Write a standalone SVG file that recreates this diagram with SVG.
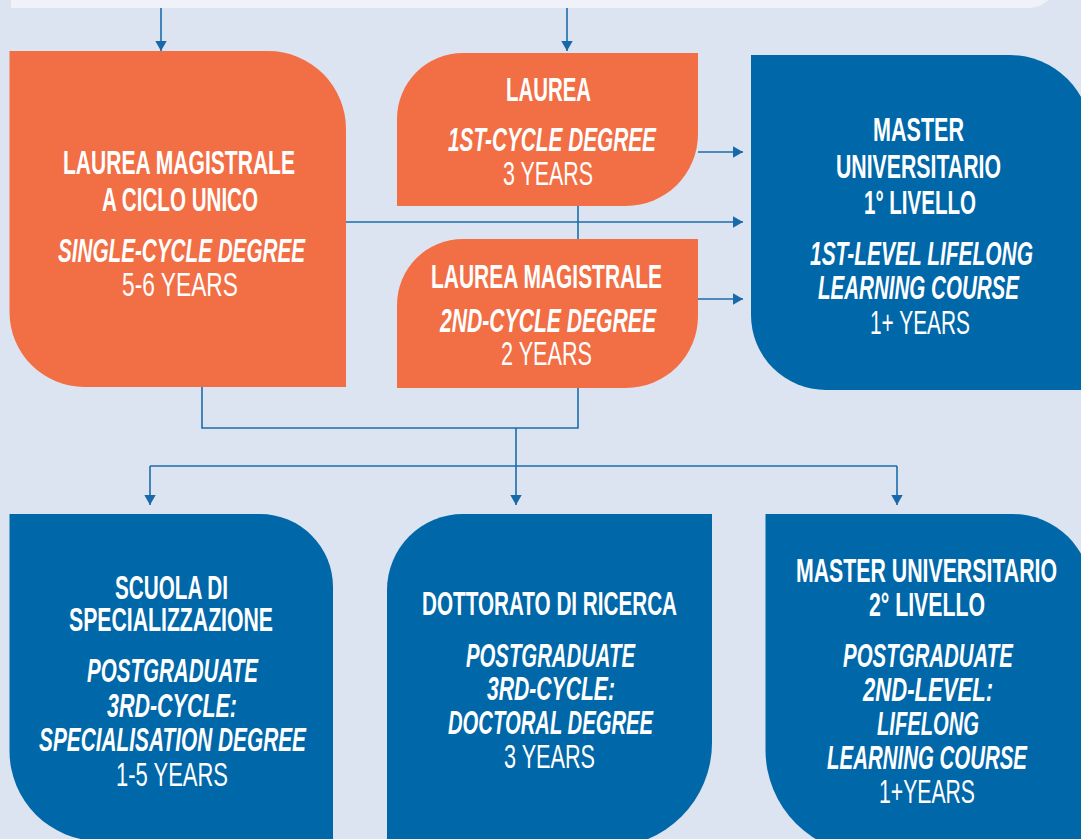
<svg xmlns="http://www.w3.org/2000/svg" width="1081" height="839" viewBox="0 0 1081 839">
<defs>
<marker id="arr" markerUnits="userSpaceOnUse" markerWidth="11" markerHeight="13" refX="10.5" refY="6.5" orient="auto" viewBox="0 0 11 13">
<path d="M0,0.5 L10.5,6.5 L0,12.5 Z" fill="#1769aa"/>
</marker>
<style>
.bg{fill:#dde4f1}
.panel{fill:#eff2f8}
.or{fill:#f26e45}
.bl{fill:#0067a8}
.c{fill:none;stroke:#1b6dab;stroke-width:1.6}
.ca{fill:none;stroke:#1b6dab;stroke-width:1.6;marker-end:url(#arr)}
text{font-family:"Liberation Sans",Arial,sans-serif;font-size:33px;fill:#ffffff}
.t{font-weight:bold}
.i{font-weight:bold;font-style:italic}
.y{font-weight:normal}
</style>
</defs>
<rect class="bg" x="0" y="0" width="1081" height="839"/>
<path class="panel" d="M11,-40 H1058 V-22 A30,30 0 0 1 1028,8 H11 Z"/>

<g id="connectors">
<line class="ca" x1="161" y1="8" x2="161" y2="51"/>
<line class="ca" x1="567" y1="8" x2="567" y2="51"/>
<line class="ca" x1="698" y1="152" x2="743" y2="152"/>
<line class="ca" x1="346" y1="222" x2="743" y2="222"/>
<line class="ca" x1="698" y1="299" x2="743" y2="299"/>
<line class="c" x1="578" y1="206" x2="578" y2="239"/>
<polyline class="c" points="202,387 202,428 578,428 578,388"/>
<line class="ca" x1="516" y1="428" x2="516" y2="505"/>
<line class="c" x1="150" y1="466" x2="897" y2="466"/>
<line class="ca" x1="150" y1="466" x2="150" y2="505"/>
<line class="ca" x1="897" y1="466" x2="897" y2="505"/>
</g>

<g id="node-lm-ciclo-unico">
<path class="or" d="M9.5,51 H268 A78,78 0 0 1 346,129 V387 H84.5 A75,75 0 0 1 9.5,312 Z"/>
<text class="t" x="63" y="174" textLength="232" lengthAdjust="spacingAndGlyphs">LAUREA MAGISTRALE</text>
<text class="t" x="102" y="211" textLength="156" lengthAdjust="spacingAndGlyphs">A CICLO UNICO</text>
<text class="i" x="58" y="262" textLength="247" lengthAdjust="spacingAndGlyphs">SINGLE-CYCLE DEGREE</text>
<text class="y" x="122" y="296" textLength="116" lengthAdjust="spacingAndGlyphs">5-6 YEARS</text>
</g>

<g id="node-laurea">
<path class="or" d="M463,53 H698 V134 A72,72 0 0 1 626,206 H397 V119 A66,66 0 0 1 463,53 Z"/>
<text class="t" x="506" y="101" textLength="85" lengthAdjust="spacingAndGlyphs">LAUREA</text>
<text class="i" x="448" y="151" textLength="208" lengthAdjust="spacingAndGlyphs">1ST-CYCLE DEGREE</text>
<text class="y" x="503" y="185" textLength="90" lengthAdjust="spacingAndGlyphs">3 YEARS</text>
</g>

<g id="node-laurea-magistrale">
<path class="or" d="M463,239 H698 V316 A72,72 0 0 1 626,388 H397 V305 A66,66 0 0 1 463,239 Z"/>
<text class="t" x="431" y="288" textLength="231" lengthAdjust="spacingAndGlyphs">LAUREA MAGISTRALE</text>
<text class="i" x="440" y="332" textLength="216" lengthAdjust="spacingAndGlyphs">2ND-CYCLE DEGREE</text>
<text class="y" x="501" y="365" textLength="91" lengthAdjust="spacingAndGlyphs">2 YEARS</text>
</g>

<g id="node-master-1">
<path class="bl" d="M751,55 H1010 A81,81 0 0 1 1091,136 V390 H826 A75,75 0 0 1 751,315 Z"/>
<text class="t" x="873" y="141" textLength="91" lengthAdjust="spacingAndGlyphs">MASTER</text>
<text class="t" x="836" y="178" textLength="165" lengthAdjust="spacingAndGlyphs">UNIVERSITARIO</text>
<text class="t" x="864" y="214" textLength="112" lengthAdjust="spacingAndGlyphs">1° LIVELLO</text>
<text class="i" x="810" y="265" textLength="223" lengthAdjust="spacingAndGlyphs">1ST-LEVEL LIFELONG</text>
<text class="i" x="818" y="299" textLength="201" lengthAdjust="spacingAndGlyphs">LEARNING COURSE</text>
<text class="y" x="870" y="334" textLength="100" lengthAdjust="spacingAndGlyphs">1+ YEARS</text>
</g>

<g id="node-scuola">
<path class="bl" d="M9.5,514 H260 A73,73 0 0 1 333,587 V841 H99.5 A90,90 0 0 1 9.5,751 Z"/>
<text class="t" x="115" y="599" textLength="113" lengthAdjust="spacingAndGlyphs">SCUOLA DI</text>
<text class="t" x="69" y="631" textLength="204" lengthAdjust="spacingAndGlyphs">SPECIALIZZAZIONE</text>
<text class="i" x="87" y="682" textLength="171" lengthAdjust="spacingAndGlyphs">POSTGRADUATE</text>
<text class="i" x="107" y="717" textLength="130" lengthAdjust="spacingAndGlyphs">3RD-CYCLE:</text>
<text class="i" x="39" y="751" textLength="267" lengthAdjust="spacingAndGlyphs">SPECIALISATION DEGREE</text>
<text class="y" x="116" y="786" textLength="112" lengthAdjust="spacingAndGlyphs">1-5 YEARS</text>
</g>

<g id="node-dottorato">
<path class="bl" d="M463,514 H712 V743 A104,104 0 0 1 608,847 H387 V590 A76,76 0 0 1 463,514 Z"/>
<text class="t" x="422" y="615" textLength="255" lengthAdjust="spacingAndGlyphs">DOTTORATO DI RICERCA</text>
<text class="i" x="466" y="667" textLength="169" lengthAdjust="spacingAndGlyphs">POSTGRADUATE</text>
<text class="i" x="487" y="700" textLength="128" lengthAdjust="spacingAndGlyphs">3RD-CYCLE:</text>
<text class="i" x="448" y="734" textLength="205" lengthAdjust="spacingAndGlyphs">DOCTORAL DEGREE</text>
<text class="y" x="504" y="768" textLength="91" lengthAdjust="spacingAndGlyphs">3 YEARS</text>
</g>

<g id="node-master-2">
<path class="bl" d="M765.5,514 H1013 A78,78 0 0 1 1091,592 V854 H869.5 A104,104 0 0 1 765.5,750 Z"/>
<text class="t" x="796" y="582" textLength="261" lengthAdjust="spacingAndGlyphs">MASTER UNIVERSITARIO</text>
<text class="t" x="869" y="616" textLength="116" lengthAdjust="spacingAndGlyphs">2° LIVELLO</text>
<text class="i" x="843" y="667" textLength="170" lengthAdjust="spacingAndGlyphs">POSTGRADUATE</text>
<text class="i" x="863" y="701" textLength="130" lengthAdjust="spacingAndGlyphs">2ND-LEVEL:</text>
<text class="i" x="877" y="735" textLength="102" lengthAdjust="spacingAndGlyphs">LIFELONG</text>
<text class="i" x="827" y="769" textLength="200" lengthAdjust="spacingAndGlyphs">LEARNING COURSE</text>
<text class="y" x="879" y="803" textLength="96" lengthAdjust="spacingAndGlyphs">1+YEARS</text>
</g>
</svg>
